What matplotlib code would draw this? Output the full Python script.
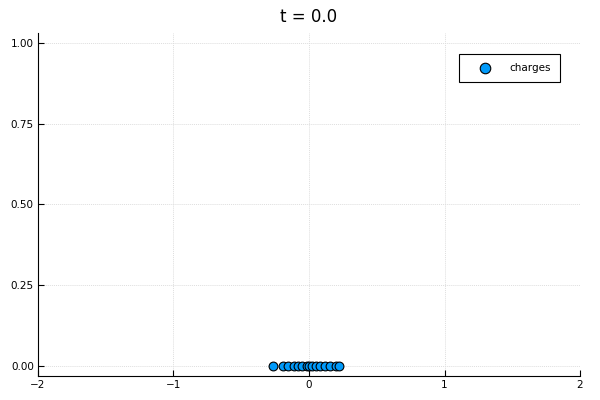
import matplotlib
matplotlib.use("Agg")
import matplotlib.pyplot as plt

# charge positions at t = 0.0
x_pos = [-0.263, -0.19, -0.153, -0.109, -0.079, -0.050, -0.017, 0.002,
         0.024, 0.052, 0.081, 0.118, 0.155, 0.197, 0.221]
y_pos = [0.0] * len(x_pos)
x_ticks = [-2, -1, 0, 1, 2]
y_ticks = [0.0, 0.25, 0.5, 0.75, 1.0]
y_ticklabels = ["0.00", "0.25", "0.50", "0.75", "1.00"]

fig = plt.figure(figsize=(6, 4), dpi=100)
ax = fig.add_axes([0.0633, 0.06, 0.9034, 0.8575])

ax.scatter(x_pos, y_pos, s=40, color="#009AFA", edgecolors="black",
           linewidths=0.8, label="charges", zorder=3, clip_on=False)

ax.set_xlim(-2, 2)
ax.set_ylim(-0.031, 1.03)
ax.set_xticks(x_ticks)
ax.set_yticks(y_ticks)
ax.set_yticklabels(y_ticklabels)
ax.tick_params(direction="in", length=4, width=0.8, labelsize=7.5,
               colors="black", pad=3)
ax.grid(True, color="#dedede", linewidth=0.7, linestyle=(0, (1, 1)))
ax.set_axisbelow(True)
for side in ["top", "right"]:
    ax.spines[side].set_visible(False)
for side in ["left", "bottom"]:
    ax.spines[side].set_linewidth(0.8)

ax.set_title("t = 0.0", fontsize=12, pad=8)
leg = ax.legend(loc="upper right", fontsize=7.5, fancybox=False,
                framealpha=1, edgecolor="black", borderpad=0.9,
                handlelength=3.2, handletextpad=0.7, markerscale=1.2,
                bbox_to_anchor=(0.973, 0.955))
leg.get_frame().set_linewidth(0.8)

fig.savefig("out.png", dpi=100)
